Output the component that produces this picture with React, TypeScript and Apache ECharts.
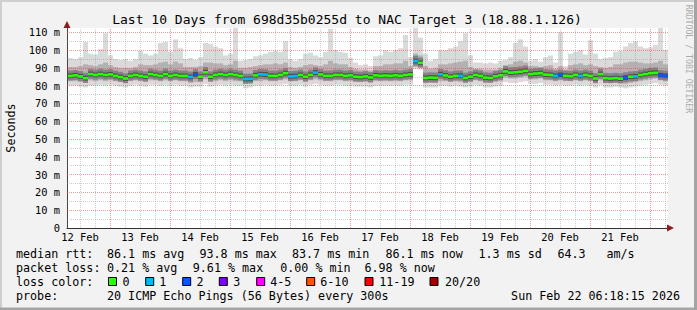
import React, { useEffect, useRef } from "react";
import * as echarts from "echarts";

// time axis in hours after 12 Feb 00:00
const X_MIN = 6.8;
const X_MAX = 247.2;
const START_HOUR = 7;
const STEP_HOURS = 2;

const DAY_LABELS = ["12 Feb", "13 Feb", "14 Feb", "15 Feb", "16 Feb", "17 Feb", "18 Feb", "19 Feb", "20 Feb", "21 Feb"];
const DAY_LABEL_HOURS = [12, 36, 60, 84, 108, 132, 156, 180, 204, 228];
const DAY_LINE_HOURS = [24, 48, 72, 96, 120, 144, 168, 192, 216, 240];
const SIX_HOUR_LINES = [12, 18, 30, 36, 42, 54, 60, 66, 78, 84, 90, 102, 108, 114, 126, 132, 138, 150, 156, 162, 174, 180, 186, 198, 204, 210, 222, 228, 234, 246];
const Y_MAJOR = [10, 20, 30, 40, 50, 60, 70, 80, 90, 100, 110];
const Y_MINOR = [5, 15, 25, 35, 45, 55, 65, 75, 85, 95, 105];
const Y_LABELS = [0, 10, 20, 30, 40, 50, 60, 70, 80, 90, 100, 110];

const medianRtt = [
  85.5, 85.8, 85.2, 84.2, 86.5, 86.0, 86.5, 86.0, 86.3, 85.5,
  84.8, 84.0, 85.5, 86.0, 85.5, 85.0, 86.5, 86.0, 85.5, 86.5,
  85.5, 86.0, 85.5, 85.5, 84.9, 86.3, 85.0, 87.5, 85.0, 86.0,
  86.5, 86.0, 86.5, 86.0, 85.5, 83.7, 83.8, 85.8, 86.4, 86.2,
  85.5, 85.5, 86.0, 87.0, 85.2, 85.4, 86.0, 85.0, 86.0, 87.3,
  86.3, 85.5, 85.5, 86.0, 86.0, 85.5, 85.8, 85.0, 84.8, 85.2,
  84.6, 85.8, 85.5, 85.7, 85.5, 85.8, 85.5, 86.0, 86.3, 93.8,
  92.8, 84.3, 84.5, 84.4, 86.4, 85.7, 85.0, 85.5, 85.5, 84.3,
  85.0, 86.0, 85.5, 84.5, 84.3, 85.3, 85.8, 88.0, 87.3, 87.5,
  87.8, 88.3, 86.5, 86.8, 87.0, 86.2, 86.0, 85.5, 86.0, 85.5,
  85.3, 86.0, 85.5, 86.0, 85.5, 84.0, 86.5, 84.2, 84.0, 84.2,
  83.9, 84.5, 85.0, 85.2, 86.0, 86.5, 87.0, 87.2, 85.8, 85.5,
];

const lossCount = [
  0, 0, 0, 0, 0, 0, 0, 0, 0, 0,
  0, 0, 0, 0, 0, 0, 0, 0, 0, 0,
  0, 0, 0, 0, 1, 2, 0, 0, 0, 0,
  0, 0, 0, 0, 0, 1, 1, 0, 1, 1,
  0, 0, 0, 0, 1, 1, 0, 0, 0, 1,
  0, 0, 0, 0, 0, 0, 0, 0, 0, 0,
  0, 0, 0, 0, 0, 0, 0, 0, 0, 1,
  0, 0, 0, 0, 1, 0, 0, 0, 1, 0,
  0, 0, 0, 0, 0, 0, 0, 0, 0, 0,
  0, 0, 0, 0, 0, 0, 0, 1, 2, 0,
  0, 0, 1, 0, 0, 0, 0, 0, 0, 0,
  0, 2, 0, 1, 0, 0, 0, 0, 2, 2,
];

const smokeMax = [
  95.5, 95.0, 96.0, 104.5, 98.0, 97.5, 100.5, 109.5, 97.0, 95.0,
  94.5, 95.0, 94.0, 95.0, 99.5, 98.0, 97.0, 98.0, 104.0, 104.5,
  99.0, 106.0, 101.0, 95.0, 95.5, 94.5, 96.0, 104.0, 103.5, 102.0,
  101.0, 97.0, 98.0, 112.5, 94.0, 94.5, 95.0, 96.5, 97.0, 98.0,
  99.0, 99.5, 99.0, 105.0, 95.0, 94.0, 95.0, 98.0, 98.5, 97.0,
  96.0, 99.0, 112.0, 100.0, 99.0, 98.5, 95.5, 93.0, 91.5, 92.0,
  91.0, 96.5, 97.0, 100.0, 99.0, 100.0, 101.0, 108.5, 96.0, 112.5,
  107.0, 98.0, 94.0, 95.0, 100.0, 100.0, 101.0, 102.0, 105.0, 109.5,
  97.0, 93.0, 93.0, 92.5, 93.0, 92.5, 94.0, 94.5, 96.0, 104.0,
  106.0, 102.0, 94.0, 95.0, 93.5, 96.0, 97.0, 93.0, 110.0, 91.0,
  98.0, 99.0, 100.0, 97.5, 105.5, 98.0, 95.0, 95.5, 96.0, 99.0,
  99.5, 102.0, 104.0, 105.0, 102.0, 101.0, 101.5, 103.0, 112.5, 100.0,
];

const smokeUpper = [
  90.5, 90.5, 91.0, 92.0, 91.5, 91.0, 92.0, 93.0, 91.5, 90.5,
  90.0, 90.0, 90.0, 90.5, 92.0, 91.5, 91.5, 92.0, 93.0, 93.5,
  92.0, 93.5, 92.5, 90.5, 90.5, 90.5, 91.0, 93.0, 93.0, 92.5,
  92.5, 91.5, 92.0, 94.0, 90.0, 90.0, 90.5, 91.0, 91.5, 92.0,
  92.0, 92.5, 92.0, 93.0, 90.5, 90.0, 90.5, 91.5, 92.0, 91.5,
  91.0, 92.0, 94.0, 92.5, 92.0, 92.0, 90.5, 89.5, 89.0, 89.0,
  88.5, 91.0, 91.0, 92.0, 92.0, 92.5, 92.5, 94.0, 91.0, 98.0,
  97.0, 91.0, 89.5, 90.0, 92.0, 92.0, 92.5, 93.0, 93.5, 94.0,
  90.5, 89.5, 89.5, 89.0, 89.0, 89.0, 90.0, 91.5, 92.0, 93.5,
  94.0, 93.0, 91.0, 91.0, 90.5, 91.0, 91.5, 89.5, 91.0, 89.0,
  91.5, 92.0, 92.5, 91.5, 92.0, 91.0, 90.5, 90.0, 90.5, 92.0,
  92.0, 93.0, 93.5, 93.5, 93.0, 92.5, 92.5, 93.0, 94.0, 92.0,
];

const smokeLower = [
  82.5, 82.5, 82.0, 81.5, 83.0, 82.5, 83.0, 82.5, 83.0, 82.5,
  82.0, 81.5, 82.5, 83.0, 82.5, 82.0, 83.0, 83.0, 82.5, 83.0,
  82.5, 83.0, 82.5, 82.5, 81.5, 82.0, 82.0, 83.5, 82.0, 82.5,
  83.0, 82.5, 83.0, 82.5, 82.5, 81.0, 81.5, 82.5, 82.5, 83.0,
  82.5, 82.5, 83.0, 83.5, 82.5, 82.5, 83.0, 82.0, 83.0, 83.5,
  83.0, 82.5, 82.5, 83.0, 83.0, 82.5, 82.5, 82.0, 82.0, 82.0,
  81.5, 82.5, 82.5, 82.5, 82.5, 82.5, 82.5, 83.0, 83.0, 90.5,
  90.0, 81.5, 81.5, 81.5, 82.5, 82.5, 82.0, 82.5, 82.0, 81.5,
  82.0, 83.0, 82.5, 81.5, 81.5, 82.0, 82.5, 84.5, 84.0, 84.0,
  84.5, 85.0, 83.5, 83.5, 84.0, 83.0, 83.0, 82.5, 83.0, 82.5,
  82.5, 83.0, 82.5, 83.0, 82.5, 81.5, 83.0, 81.5, 81.5, 82.0,
  81.5, 81.0, 81.5, 82.0, 82.5, 83.0, 83.5, 84.0, 83.0, 82.5,
];

const smokeMin = [
  80.0, 80.0, 79.5, 79.0, 80.0, 80.0, 80.5, 80.0, 80.5, 80.0,
  79.5, 79.0, 80.0, 80.5, 80.0, 79.5, 80.5, 80.5, 80.0, 80.5,
  80.0, 80.5, 80.0, 80.0, 79.0, 79.5, 79.5, 81.0, 79.5, 80.0,
  80.5, 80.0, 80.5, 80.0, 80.0, 78.5, 79.0, 80.0, 80.0, 80.5,
  80.0, 80.0, 80.5, 81.0, 80.0, 80.0, 80.5, 79.5, 80.5, 81.0,
  80.5, 80.0, 80.0, 80.5, 80.5, 80.0, 80.0, 79.5, 79.5, 79.5,
  79.0, 80.0, 80.0, 80.0, 80.0, 80.0, 80.0, 80.5, 80.5, 89.5,
  89.0, 79.0, 79.0, 79.0, 80.0, 80.0, 79.5, 80.0, 79.5, 79.0,
  79.5, 80.5, 80.0, 79.0, 79.0, 79.5, 80.0, 82.0, 81.5, 81.5,
  82.0, 82.5, 81.0, 81.0, 81.5, 80.5, 80.5, 80.0, 80.5, 80.0,
  80.0, 80.5, 80.0, 80.5, 80.0, 79.0, 80.5, 79.0, 79.0, 79.5,
  79.0, 78.5, 79.0, 79.5, 80.0, 80.5, 81.0, 81.5, 80.5, 80.0,
];

const LOSS_LABELS = ["0", "1", "2", "3", "4-5", "6-10", "11-19", "20/20"];
const LOSS_COLORS = ["#26ff00", "#00b8ff", "#0059ff", "#7e00ff", "#ff00ff", "#ff5500", "#ff0000", "#a10000"];
const LOSS_UPPER = [0, 1, 2, 3, 5, 10, 19, 20];

const lossIndex = (n: number) => {
  for (let k = 0; k < LOSS_UPPER.length; k++) if (n <= LOSS_UPPER[k]) return k;
  return LOSS_UPPER.length - 1;
};

const MONO = "'DejaVu Sans Mono', monospace";

export default function App() {
  const ref = useRef<HTMLDivElement>(null);

  useEffect(() => {
    document.body.style.margin = "0";
    if (!ref.current) return;
    const chart = echarts.init(ref.current, undefined, { renderer: "svg" });

    const smokeData = medianRtt.map((m, i) => [
      START_HOUR + i * STEP_HOURS,
      smokeMin[i],
      smokeLower[i],
      smokeUpper[i],
      smokeMax[i],
      m,
    ]);
    const medianData = medianRtt.map((m, i) => [START_HOUR + i * STEP_HOURS, m, lossCount[i]]);

    const majorStyle = { color: "rgba(230,60,60,0.5)", type: [1, 1], width: 1 };
    const minorStyle = { color: "rgba(140,140,140,0.42)", type: [1, 1], width: 1 };

    const gridLines: any[] = [
      ...SIX_HOUR_LINES.filter((h) => DAY_LINE_HOURS.indexOf(h) < 0).map((h) => ({ xAxis: h, lineStyle: minorStyle })),
      ...Y_MINOR.map((v) => ({ yAxis: v, lineStyle: minorStyle })),
      ...DAY_LINE_HOURS.map((h) => ({ xAxis: h, lineStyle: majorStyle })),
      ...Y_MAJOR.map((v) => ({ yAxis: v, lineStyle: majorStyle })),
    ];

    const txt = (x: number, y: number, text: string, extra: any = {}) => ({
      type: "text",
      x,
      y,
      silent: true,
      style: {
        text,
        fill: "#000",
        font: `11.7px ${MONO}`,
        textAlign: "left",
        textVerticalAlign: "middle",
        ...extra,
      },
    });

    const boxX = [108.5, 145.7, 182.7, 219.3, 256.7, 306.7, 365, 430];
    const boxLabelX = [122.6, 159.3, 196.6, 233.3, 270.3, 320.3, 379.3, 445];

    const graphics: any[] = [
      // frame
      { type: "rect", shape: { x: 0, y: 0, width: 697, height: 2 }, style: { fill: "#cfcfcf" }, silent: true },
      { type: "rect", shape: { x: 0, y: 0, width: 2, height: 310 }, style: { fill: "#cfcfcf" }, silent: true },
      { type: "rect", shape: { x: 694, y: 0, width: 3, height: 310 }, style: { fill: "#a4a4a4" }, silent: true },
      { type: "rect", shape: { x: 0, y: 307.5, width: 697, height: 2.5 }, style: { fill: "#a4a4a4" }, silent: true },
      // arrows
      { type: "polygon", shape: { points: [[67, 21], [63.5, 28], [70.5, 28]] }, style: { fill: "#8e1c1c" }, silent: true, z: 10 },
      { type: "polygon", shape: { points: [[674, 228], [667, 224.5], [667, 231.5]] }, style: { fill: "#8e1c1c" }, silent: true, z: 10 },
      // title
      txt(347, 19.5, "Last 10 Days from 698d35b0255d to NAC Target 3 (18.88.1.126)", { font: `13px ${MONO}`, textAlign: "center" }),
      // y-axis name
      { type: "text", x: 11, y: 128, rotation: Math.PI / 2, silent: true,
        style: { text: "Seconds", fill: "#000", font: `11.7px ${MONO}`, textAlign: "center", textVerticalAlign: "middle" } },
      // watermark
      { type: "text", x: 688.5, y: 59, rotation: -Math.PI / 2, silent: true,
        style: { text: "RRDTOOL / TOBI OETIKER", fill: "#ababab", font: `8.2px ${MONO}`, textAlign: "center", textVerticalAlign: "middle" } },
      // legend line 1
      txt(16, 254, "median rtt:"),
      txt(107, 254, "86.1 ms avg"),
      txt(199.5, 254, "93.8 ms max"),
      txt(292, 254, "83.7 ms min"),
      txt(385.5, 254, "86.1 ms now"),
      txt(478.5, 254, "1.3 ms sd"),
      txt(557.5, 254, "64.3"),
      txt(606.5, 254, "am/s"),
      // legend line 2
      txt(16, 268.3, "packet loss:"),
      txt(107, 268.3, "0.21 % avg"),
      txt(192.8, 268.3, "9.61 % max"),
      txt(280.2, 268.3, "0.00 % min"),
      txt(364.5, 268.3, "6.98 % now"),
      // legend line 3
      txt(16, 281.7, "loss color:"),
      ...LOSS_LABELS.map((l, k) => txt(boxLabelX[k], 281.7, l)),
      ...LOSS_COLORS.map((c, k) => ({
        type: "rect",
        silent: true,
        shape: { x: boxX[k], y: 277.5, width: 8, height: 8 },
        style: { fill: c, stroke: "#000", lineWidth: 1 },
      })),
      // legend line 4
      txt(16, 296, "probe:"),
      txt(107, 296, "20 ICMP Echo Pings (56 Bytes) every 300s"),
      txt(680, 296, "Sun Feb 22 06:18:15 2026", { textAlign: "right" }),
    ];

    chart.setOption({
      animation: false,
      backgroundColor: "#f2f2f2",
      grid: {
        left: 67,
        right: 29,
        top: 28,
        bottom: 82,
        show: true,
        backgroundColor: "#ffffff",
        borderWidth: 0,
      },
      xAxis: {
        type: "value",
        min: X_MIN,
        max: X_MAX,
        splitLine: { show: false },
        axisTick: { show: false },
        axisLine: { show: true, onZero: false, lineStyle: { color: "#333333", width: 1 } },
        axisLabel: {
          customValues: DAY_LABEL_HOURS,
          formatter: (v: number) => {
            const k = DAY_LABEL_HOURS.indexOf(Math.round(v));
            return k >= 0 ? DAY_LABELS[k] : "";
          },
          color: "#000",
          fontFamily: MONO,
          fontSize: 10.4,
          margin: 4,
        },
      },
      yAxis: {
        type: "value",
        min: 0,
        max: 112.4,
        interval: 10,
        splitLine: { show: false },
        axisTick: { show: false },
        axisLine: { show: true, onZero: false, lineStyle: { color: "#444444", width: 1 } },
        axisLabel: {
          customValues: Y_LABELS,
          formatter: (v: number) => (v === 0 ? "0" : Y_LABELS.indexOf(v) >= 0 ? `${v} m` : ""),
          color: "#000",
          fontFamily: MONO,
          fontSize: 10.4,
          margin: 7,
        },
      },
      graphic: graphics,
      series: [
        {
          type: "custom",
          name: "smoke",
          z: 2,
          silent: true,
          clip: true,
          data: smokeData,
          renderItem: (params: any, api: any) => {
            const t = api.value(0);
            const lo = api.value(1);
            const q1 = api.value(2);
            const q3 = api.value(3);
            const hi = api.value(4);
            const m = api.value(5);
            const x0 = Math.round(api.coord([t, 0])[0]);
            const x1 = Math.round(api.coord([t + STEP_HOURS, 0])[0]);
            const yOf = (v: number) => api.coord([t, v])[1];
            const band = (a: number, b: number, fill: string) => ({
              type: "rect",
              shape: { x: x0, y: yOf(b), width: x1 - x0, height: yOf(a) - yOf(b) },
              style: { fill },
            });
            return {
              type: "group",
              children: [
                band(lo, hi, "#dadada"),
                band(q1, q3, "#b2b2b2"),
                band(Math.max(lo, m - 2.6), Math.min(hi, m + 3.0), "#848484"),
                band(Math.max(lo, m - 1.3), Math.min(hi, m + 1.4), "#4e4e4e"),
              ],
            };
          },
        },
        {
          type: "line",
          name: "grid",
          z: 4,
          silent: true,
          data: [[START_HOUR, 0]],
          showSymbol: false,
          lineStyle: { width: 0, opacity: 0 },
          markLine: {
            silent: true,
            symbol: ["none", "none"],
            label: { show: false },
            animation: false,
            data: gridLines,
          },
        },
        {
          type: "custom",
          name: "median",
          z: 6,
          silent: true,
          clip: true,
          data: medianData,
          renderItem: (params: any, api: any) => {
            const t = api.value(0);
            const m = api.value(1);
            const loss = api.value(2);
            const x0 = Math.round(api.coord([t, m])[0]);
            const x1 = Math.round(api.coord([t + STEP_HOURS, m])[0]);
            const y = api.coord([t, m])[1];
            return {
              type: "rect",
              shape: { x: x0, y: y - 1.3, width: x1 - x0, height: 2.6 },
              style: { fill: LOSS_COLORS[lossIndex(loss)] },
            };
          },
        },
      ],
    });

    return () => {
      chart.dispose();
    };
  }, []);

  return (
    <div
      ref={ref}
      style={{ position: "absolute", left: 0, top: 0, width: 697, height: 310 }}
    />
  );
}
